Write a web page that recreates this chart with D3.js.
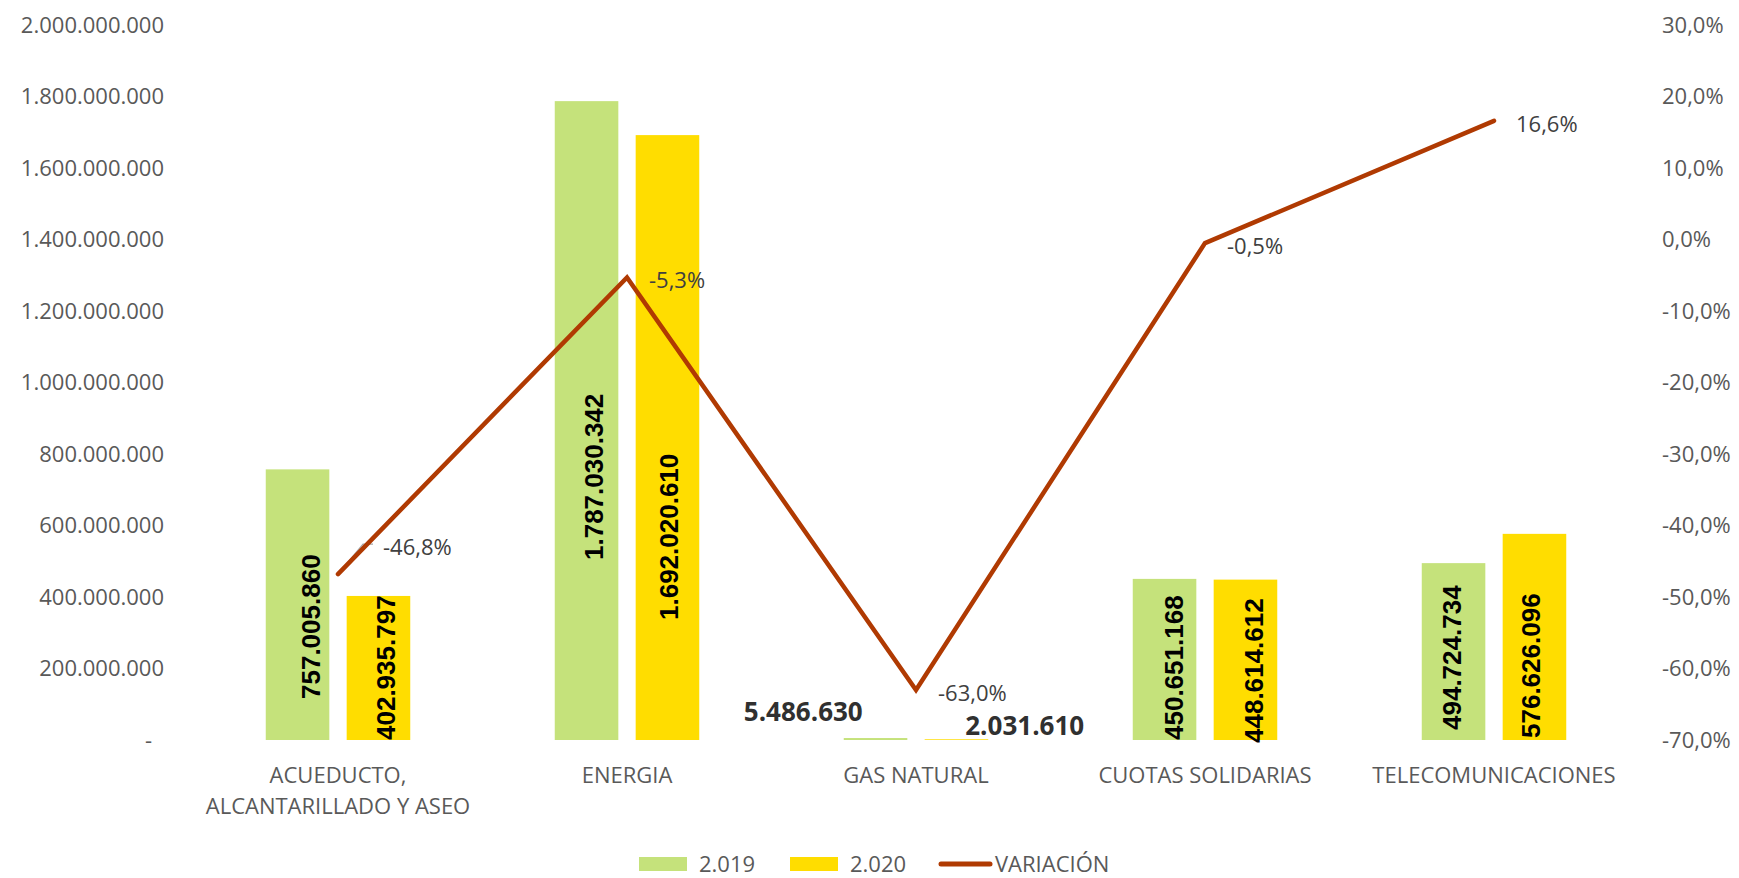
<!DOCTYPE html>
<html><head><meta charset="utf-8">
<script src="https://cdn.jsdelivr.net/npm/d3@7"></script>
<style>body{margin:0;background:#fff;} svg{display:block;}</style>
</head><body><svg id="c" width="1739" height="878"></svg>
<script>
// ---- data ----
const categories = ["ACUEDUCTO,\nALCANTARILLADO Y ASEO", "ENERGIA", "GAS NATURAL", "CUOTAS SOLIDARIAS", "TELECOMUNICACIONES"];
const values2019 = [757005860, 1787030342, 5486630, 450651168, 494724734];
const values2020 = [402935797, 1692020610, 2031610, 448614612, 576626096];
const variation = [-0.468, -0.053, -0.630, -0.005, 0.166];
const leftTicks = [0, 200e6, 400e6, 600e6, 800e6, 1000e6, 1200e6, 1400e6, 1600e6, 1800e6, 2000e6];
const rightTicks = [-0.7, -0.6, -0.5, -0.4, -0.3, -0.2, -0.1, 0, 0.1, 0.2, 0.3];
const seriesNames = ["2.019", "2.020", "VARIACIÓN"];

// ---- layout / style (not data) ----
const W = 1739, H = 878;
const plot = {left: 193.5, right: 1638.5, top: 25, bottom: 740};
const colors = {g: "#C5E27B", y: "#FFDD00", line: "#B03A02", axis: "#595959", lbl: "#404040"};
// per-bar label lift (px above base) and x shift, as placed in the original
const lift19 = [41, 180, 0, 0, 10], lift20 = [0, 120, 0, -3, 2];
const shift19 = [13, 7, 0, 9, -2], shift20 = [8, 2, 0, 9, -3];

const loc = d3.formatLocale({decimal: ",", thousands: ".", grouping: [3], currency: ["$", ""], minus: "-"});
const fNum = loc.format(",.0f");
const fPct = loc.format(".1%");

const svg = d3.select("#c");
svg.append("rect").attr("width", W).attr("height", H).attr("fill", "#fff");

const x = d3.scaleBand().domain(d3.range(categories.length)).range([plot.left, plot.right]).padding(0);
const yL = d3.scaleLinear().domain([0, 2e9]).range([plot.bottom, plot.top]);
const yR = d3.scaleLinear().domain([-0.7, 0.3]).range([plot.bottom, plot.top]);
const bw = x.bandwidth(), barW = bw * 0.22, gap = bw * 0.06;
const cx = i => x(i) + bw / 2;

// left axis
const gL = svg.append("g").attr("transform", `translate(164,0)`)
  .call(d3.axisLeft(yL).tickValues(leftTicks).tickSize(0).tickPadding(0)
    .tickFormat(d => d === 0 ? "-" : fNum(d)));
gL.select(".domain").remove();
gL.selectAll("text").attr("font-family", "Open Sans").attr("font-size", 22).attr("fill", colors.axis)
  .attr("x", d => d === 0 ? -12 : 0);

// right axis
const gR = svg.append("g").attr("transform", `translate(1662,0)`)
  .call(d3.axisRight(yR).tickValues(rightTicks).tickSize(0).tickPadding(0).tickFormat(fPct));
gR.select(".domain").remove();
gR.selectAll("text").attr("font-family", "Open Sans").attr("font-size", 22).attr("fill", colors.axis);

// bars
const bars = svg.append("g");
bars.selectAll("rect.b19").data(values2019).join("rect").attr("class", "b19")
  .attr("x", (d, i) => cx(i) - gap / 2 - barW).attr("width", barW)
  .attr("y", d => yL(d)).attr("height", d => yL(0) - yL(d)).attr("fill", colors.g);
bars.selectAll("rect.b20").data(values2020).join("rect").attr("class", "b20")
  .attr("x", (d, i) => cx(i) + gap / 2).attr("width", barW)
  .attr("y", d => yL(d)).attr("height", d => yL(0) - yL(d)).attr("fill", colors.y);

// bar labels
const small = 50e6;
const lblG = svg.append("g");
function barLabels(vals, side, lift, shift) {
  vals.forEach((v, i) => {
    const bx = side < 0 ? cx(i) - gap / 2 - barW : cx(i) + gap / 2;
    if (v < small) {
      // tiny bar: horizontal label beside it
      lblG.append("text")
        .attr("x", side < 0 ? bx + 19 : bx + barW - 23)
        .attr("y", yL(0) - (side < 0 ? 28 : 14))
        .attr("dy", "0.35em")
        .attr("text-anchor", side < 0 ? "end" : "start")
        .attr("font-family", "Open Sans").attr("font-weight", 700).attr("font-size", 26)
        .attr("fill", "#303030").text(fNum(v));
    } else {
      const tx = bx + barW / 2 + shift[i], ty = yL(0) - lift[i];
      lblG.append("text")
        .attr("transform", `translate(${tx},${ty}) rotate(-90)`)
        .attr("dominant-baseline", "central")
        .attr("text-anchor", "start")
        .attr("font-family", "Liberation Sans").attr("font-weight", 700).attr("font-size", 26)
        .attr("fill", "#000").text(fNum(v));
    }
  });
}
barLabels(values2019, -1, lift19, shift19);
barLabels(values2020, 1, lift20, shift20);

// leader line for first variation label
const p0 = [cx(0), yR(variation[0])];
svg.append("path").attr("d", `M${p0[0]},${p0[1]} L${p0[0] + 25},${p0[1] - 30} L${p0[0] + 35},${p0[1] - 30}`)
  .attr("fill", "none").attr("stroke", "#A6A6A6").attr("stroke-width", 1.2);

// variation line
const line = d3.line().x((d, i) => cx(i)).y(d => yR(d));
svg.append("path").datum(variation).attr("d", line)
  .attr("fill", "none").attr("stroke", colors.line).attr("stroke-width", 4.5)
  .attr("stroke-linejoin", "miter").attr("stroke-linecap", "round");

// variation labels
svg.append("g").selectAll("text").data(variation).join("text")
  .attr("x", (d, i) => cx(i) + (i === 0 ? 45 : 22))
  .attr("y", (d, i) => yR(d) + (i === 0 ? -27 : 3))
  .attr("dy", "0.35em")
  .attr("font-family", "Open Sans").attr("font-size", 22).attr("fill", colors.lbl)
  .text(d => fPct(d));

// category labels
const cat = svg.append("g");
categories.forEach((c, i) => {
  const t = cat.append("text").attr("text-anchor", "middle")
    .attr("font-family", "Open Sans").attr("font-size", 22).attr("fill", colors.axis);
  c.split("\n").forEach((ln, j) => {
    t.append("tspan").attr("x", cx(i)).attr("y", 775 + j * 31.5).attr("dy", "0.35em").text(ln);
  });
});

// legend
const ly = 864;
const lg = svg.append("g").attr("font-family", "Open Sans").attr("font-size", 22).attr("fill", colors.axis);
lg.append("rect").attr("x", 639).attr("y", ly - 7).attr("width", 48).attr("height", 14).attr("fill", colors.g);
lg.append("text").attr("x", 699).attr("y", ly).attr("dy", "0.35em").text(seriesNames[0]);
lg.append("rect").attr("x", 790).attr("y", ly - 7).attr("width", 48).attr("height", 14).attr("fill", colors.y);
lg.append("text").attr("x", 850).attr("y", ly).attr("dy", "0.35em").text(seriesNames[1]);
lg.append("line").attr("x1", 941).attr("x2", 990).attr("y1", ly).attr("y2", ly)
  .attr("stroke", colors.line).attr("stroke-width", 5).attr("stroke-linecap", "round");
lg.append("text").attr("x", 995).attr("y", ly).attr("dy", "0.35em").text(seriesNames[2]);
</script></body></html>
